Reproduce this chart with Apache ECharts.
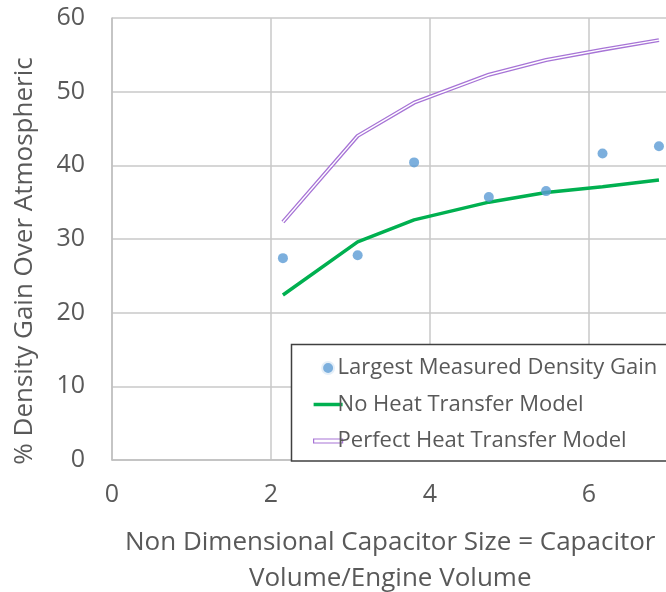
<!DOCTYPE html>
<html><head><meta charset="utf-8">
<script src="https://cdn.jsdelivr.net/npm/echarts@6/dist/echarts.min.js"></script>
<style>html,body{margin:0;padding:0;background:#fff}#c{width:666px;height:592px}</style>
</head><body><div id="c"></div>
<script>
const measuredX = [2.15, 3.09, 3.80, 4.74, 5.46, 6.17, 6.88];
const measuredY = [27.4, 27.8, 40.4, 35.7, 36.5, 41.6, 42.6];
const modelX = [2.15, 3.09, 3.80, 4.74, 5.46, 6.17, 6.88];
const noHeatY = [22.4, 29.6, 32.6, 35.0, 36.3, 37.1, 38.0];
const perfectY = [32.3, 44.0, 48.5, 52.3, 54.3, 55.7, 57.0];
const seriesNames = ['Largest Measured Density Gain', 'No Heat Transfer Model', 'Perfect Heat Transfer Model'];
const xTitle = 'Non Dimensional Capacitor Size = Capacitor\nVolume/Engine Volume';
const yTitle = '% Density Gain Over Atmospheric';

const pair = (xs, ys) => xs.map((x, i) => [x, ys[i]]);
const FONT = 'Open Sans';
const TXT = '#595959';
const chart = echarts.init(document.getElementById('c'));
chart.setOption({
  animation: false,
  textStyle: { fontFamily: FONT },
  grid: { left: 112, top: 18, width: 556.5, height: 442, containLabel: false, outerBoundsMode: 'none' },
  xAxis: {
    type: 'value', min: 0, max: 7, interval: 2,
    name: xTitle, nameLocation: 'middle', nameGap: 65,
    nameTextStyle: { fontSize: 26, color: TXT, fontFamily: FONT, lineHeight: 36 },
    axisLine: { show: true, lineStyle: { color: '#bfbfbf', width: 1.5 } },
    axisTick: { show: false },
    axisLabel: { fontSize: 25, color: TXT, margin: 22, formatter: v => (v % 2 === 0 ? String(v) : '') },
    splitLine: { show: true, lineStyle: { color: '#c8c8c8', width: 1.5 } }
  },
  yAxis: {
    type: 'value', min: 0, max: 60, interval: 10,
    name: yTitle, nameLocation: 'middle', nameGap: 74,
    nameTextStyle: { fontSize: 26, color: TXT, fontFamily: FONT, padding: [0, 44, 0, 0] },
    axisLine: { show: true, lineStyle: { color: '#bfbfbf', width: 1.5 } },
    axisTick: { show: false },
    axisLabel: { fontSize: 25, color: TXT, margin: 27 },
    splitLine: { show: true, lineStyle: { color: '#c8c8c8', width: 1.5 } }
  },
  graphic: [{
    type: 'rect', z: 50, silent: true,
    shape: { x: 291.5, y: 344.5, width: 380, height: 116.5 },
    style: { fill: '#ffffff', stroke: '#404040', lineWidth: 1.5 }
  }],
  legend: {
    z: 60, orient: 'vertical', left: 308, top: 352, itemGap: 14.5,
    itemWidth: 29, itemHeight: 14,
    textStyle: { fontSize: 22, color: TXT, fontFamily: FONT, padding: [0, 0, 0, -10] },
    data: [
      { name: seriesNames[0], icon: 'circle', itemStyle: { color: '#5b9bd5', borderColor: '#ffffff', borderWidth: 4 } },
      { name: seriesNames[1], icon: 'path://M0,0 L29,0 L29,3.5 L0,3.5 Z', itemStyle: { color: '#00b050' } },
      { name: seriesNames[2], icon: 'path://M0,0 L29,0 L29,4 L0,4 Z', itemStyle: { color: '#ffffff', borderColor: '#a774d6', borderWidth: 1.2 } }
    ]
  },
  series: [
    {
      name: seriesNames[2], type: 'line', data: pair(modelX, perfectY), symbol: 'none',
      lineStyle: { color: '#a774d6', width: 4 }, itemStyle: { color: '#a774d6' }, z: 3
    },
    {
      name: 'perfect-inner', type: 'line', data: pair(modelX, perfectY), symbol: 'none',
      lineStyle: { color: '#ffffff', width: 1.4 }, z: 4, silent: true
    },
    {
      name: seriesNames[1], type: 'line', data: pair(modelX, noHeatY), symbol: 'none',
      lineStyle: { color: '#00b050', width: 3.5 }, itemStyle: { color: '#00b050' }, z: 3
    },
    {
      name: seriesNames[0], type: 'scatter', data: pair(measuredX, measuredY),
      symbol: 'circle', symbolSize: 10, itemStyle: { color: '#5b9bd5' }, z: 5
    }
  ]
});
</script></body></html>
